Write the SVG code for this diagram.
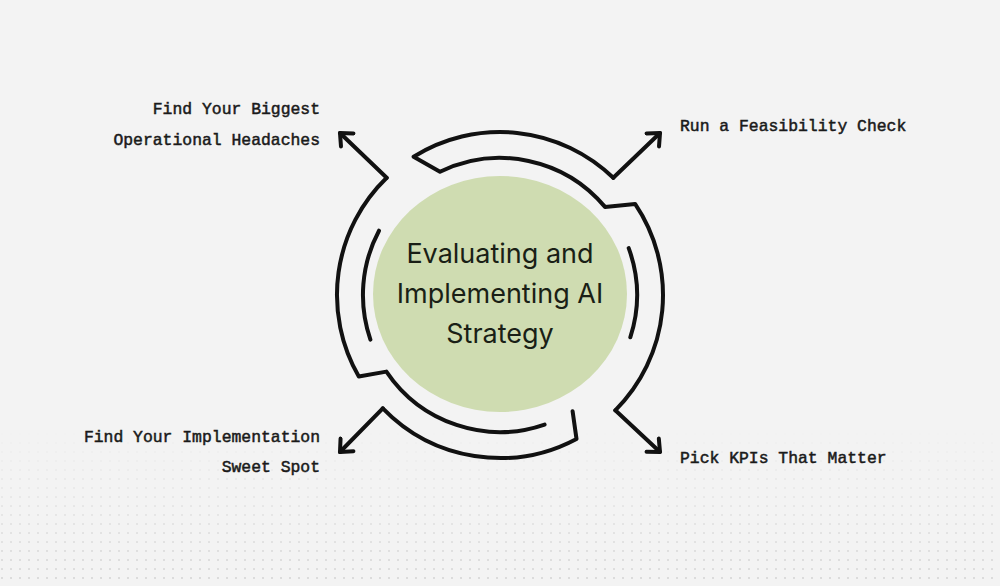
<svg xmlns="http://www.w3.org/2000/svg" width="1000" height="586" viewBox="0 0 1000 586">
<defs>
<style>
.ln{fill:none;stroke:#111;stroke-width:4;stroke-linecap:round;stroke-linejoin:round}
.lb{font-family:"Liberation Mono","DejaVu Sans Mono",monospace;font-size:16.4px;fill:#1a1a1a;stroke:#1a1a1a;stroke-width:0.5}
.ct{font-family:Inter,"Noto Sans",sans-serif;font-size:27px;fill:#1a1f16;text-anchor:middle}
</style>
<marker id="a2" viewBox="-12 -12 24 24" refX="0" refY="0" markerWidth="24" markerHeight="24" orient="auto" markerUnits="userSpaceOnUse">
<path d="M-10,-9 L0,0 L-10,9" fill="none" stroke="#111" stroke-width="4" stroke-linecap="round" stroke-linejoin="round"/>
</marker>
<pattern id="dots" width="9" height="9" patternUnits="userSpaceOnUse"><circle cx="2" cy="2" r="0.8" fill="#bbb"/></pattern>
<linearGradient id="fade" x1="0" y1="0" x2="0" y2="1"><stop offset="0" stop-color="#fff" stop-opacity="0"/><stop offset="1" stop-color="#fff" stop-opacity="1"/></linearGradient>
<mask id="m"><rect x="0" y="430" width="1000" height="156" fill="url(#fade)"/></mask>
</defs>
<rect width="1000" height="586" fill="#f3f3f3"/>
<rect x="0" y="430" width="1000" height="156" fill="url(#dots)" mask="url(#m)"/>
<g id="center">
<ellipse cx="500" cy="294" rx="127" ry="118" fill="#cfdcb1"/>
<text class="ct" x="500" y="263">Evaluating and</text>
<text class="ct" x="500" y="303">Implementing AI</text>
<text class="ct" x="500" y="343">Strategy</text>
</g>
<g id="connectors">
<path class="ln" d="M386.7,177.8 A163,163 0 0 0 358.8,376.5 L386.4,371.6 A137,137 0 0 0 544.6,424.6"/>
<path class="ln" d="M613.3,177.8 A163,163 0 0 0 413.6,156.8 L440,171.8 A137,137 0 0 1 605,206.9 L635.1,203.9 A163,163 0 0 1 615.3,410.3"/>
<path class="ln" d="M382.8,408.3 A163,163 0 0 0 576.5,438.9 L572.6,411.2"/>
<path class="ln" d="M370.4,339.6 A137,137 0 0 1 379,230.7"/>
<path class="ln" d="M628.7,248.1 A137,137 0 0 1 630.3,337.3"/>
<path class="ln" marker-end="url(#a2)" d="M386.7,177.8 L340,133"/>
<path class="ln" marker-end="url(#a2)" d="M613.3,177.8 L660,133"/>
<path class="ln" marker-end="url(#a2)" d="M382.8,408.3 L340,452"/>
<path class="ln" marker-end="url(#a2)" d="M615.3,410.3 L660,452"/>
</g>
<g id="n1"><text class="lb" x="320" y="114" text-anchor="end">Find Your Biggest</text><text class="lb" x="320" y="145" text-anchor="end">Operational Headaches</text></g>
<g id="n2"><text class="lb" x="680" y="131">Run a Feasibility Check</text></g>
<g id="n3"><text class="lb" x="320" y="442" text-anchor="end">Find Your Implementation</text><text class="lb" x="320" y="472" text-anchor="end">Sweet Spot</text></g>
<g id="n4"><text class="lb" x="680" y="463">Pick KPIs That Matter</text></g>
</svg>
